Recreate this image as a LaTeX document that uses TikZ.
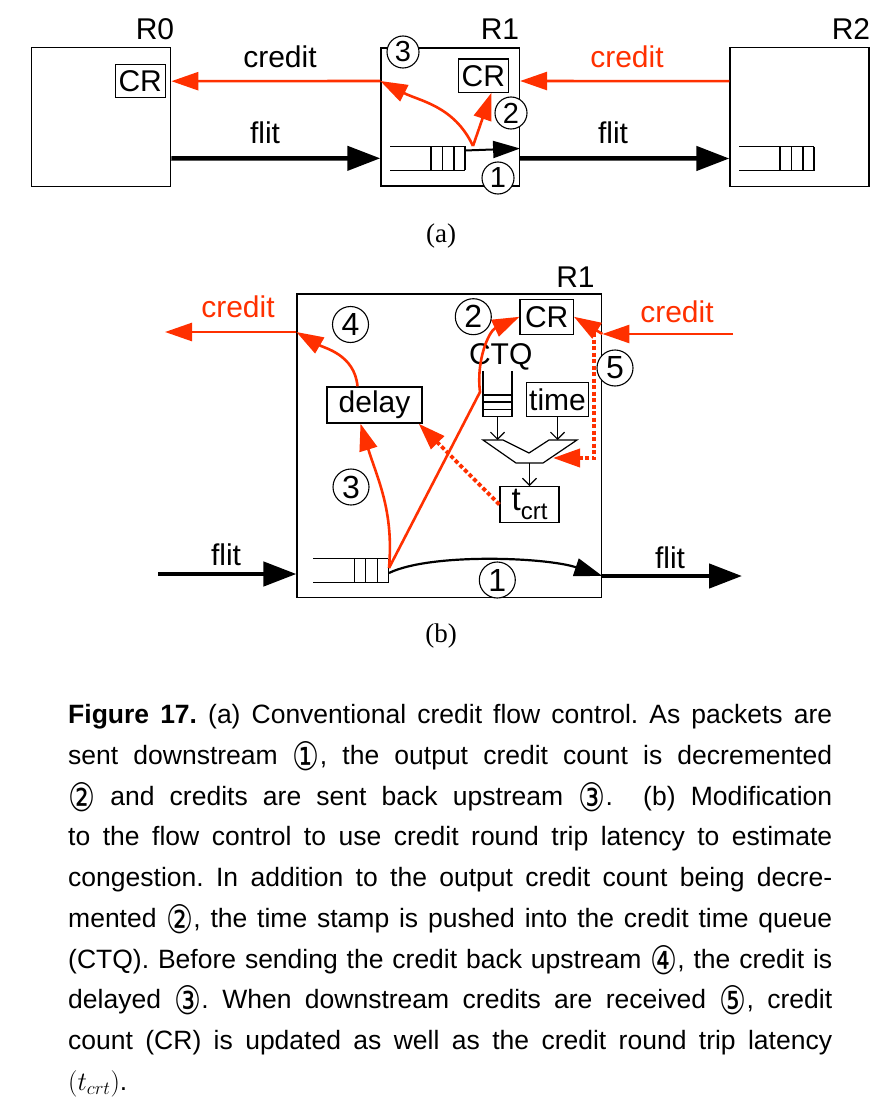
\documentclass[tikz,border=0pt]{standalone}
\usepackage{fix-cm}
\usepackage{graphicx}
\usepackage{fontspec}
\setmainfont{Liberation Sans}
\newfontfamily\serifont{Liberation Serif}
\newfontfamily\symfont{DejaVu Sans}
\usetikzlibrary{arrows.meta}
\definecolor{credred}{RGB}{255,48,0}
\newcommand{\cnum}[1]{\raisebox{-6pt}{\resizebox{27pt}{29pt}{\symfont #1}}}
\frenchspacing

\begin{document}
\begin{tikzpicture}[x=1pt,y=-1pt,
    every node/.style={font=\fontsize{30}{34}\selectfont},
    router/.style={draw,line width=1.3pt,inner sep=0pt},
    regbox/.style={draw,line width=1.3pt,inner sep=0pt},
    num/.style={draw,circle,fill=white,line width=1.1pt,inner sep=0pt,minimum size=36pt,
      font=\fontsize{32}{34}\selectfont},
    numa/.style={num,minimum size=32pt,font=\fontsize{29}{30}\selectfont},
    flitarr/.style={-{Triangle[length=33pt,width=24pt]},line width=4.5pt},
    credarr/.style={-{Triangle[length=27pt,width=18pt]},line width=2.6pt,credred},
    creddot/.style={credarr,dash pattern=on 4pt off 2.5pt,line width=3.8pt},
    thinarr/.style={-{Straight Barb[length=7pt,width=14pt]},line width=1.2pt},
    sublbl/.style={font=\serifont\fontsize{27}{30}\selectfont},
    capline/.style={anchor=base west,inner sep=0pt,font=\fontsize{26.5}{30}\selectfont},
    fifo/.pic={
      \draw[line width=1.2pt] (-75,-12) -- (0,-12) (-75,12) -- (0,12);
      \foreach \b in {-34,-22.5,-11,0} \draw[line width=1.2pt] (\b,-12) -- (\b,12);
    }]
  \useasboundingbox (0,0) rectangle (885,1113);

  % (a) conventional credits
  \node[router,minimum width=139pt,minimum height=139pt] (r0) at (101.2,117.2) {};
  \node[router,minimum width=138.5pt,minimum height=138pt] (r1a) at (450.2,117) {};
  \node[router,minimum width=139pt,minimum height=139pt] (r2) at (799.5,117.2) {};
  \node (r0lbl) at (155,29) {R0};
  \node (r1albl) at (500,29) {R1};
  \node (r2lbl) at (851,29) {R2};
  \node[regbox,minimum width=50pt,minimum height=33.4pt] (cr0) at (140.2,81) {CR};
  \node[regbox,minimum width=50pt,minimum height=33.3pt] (cr1a) at (483.3,75.7) {CR};
  \pic at (465,158.4) {fifo};
  \pic at (814,158.7) {fifo};
  \coordinate (qa) at (473,146);
  \coordinate (qaend) at (465,150.5);

  \draw[credarr] ([yshift=36pt]r2.west) -- ([yshift=36pt]r1a.east);
  \draw[credarr] ([yshift=36pt]r1a.west) -- ([yshift=36pt]r0.east);
  \draw[credarr] (qa) to[out=115,in=-27] ([yshift=36pt]r1a.west);
  \draw[credarr] (qa) -- ([xshift=8pt]cr1a.south);
  \draw[-{Triangle[length=27pt,width=17pt]},line width=2pt] (qaend) -- ([yshift=-31.5pt]r1a.east);
  \draw[flitarr] ([yshift=-41.3pt]r0.east) -- ([yshift=-41.3pt]r1a.west);
  \draw[flitarr] ([yshift=-41.3pt]r1a.east) -- ([yshift=-41.3pt]r2.west);

  \node (credla) at (280,57) {credit};
  \node[text=credred] (credra) at (627,57) {credit};
  \node (flitla) at (265,133) {flit};
  \node (flitra) at (613,133) {flit};
  \node[numa] (n3a) at (403,52) {3};
  \node[numa] (n2a) at (511,113) {2};
  \node[numa] (n1a) at (498,178) {1};
  \node[sublbl] (capa) at (441,236) {(a)};

  % (b) credit round trip
  \node[router,minimum width=304.7pt,minimum height=303.3pt] (r1b) at (449.4,445.7) {};
  \node (r1blbl) at (575.5,277) {R1};
  \node[regbox,minimum width=53.3pt,minimum height=35pt] (crb) at (546.7,316.8) {CR};
  \node[regbox,minimum width=95pt,minimum height=36pt] (delay) at (374.5,405) {delay};
  \node[regbox,minimum width=61.6pt,minimum height=34.4pt] (time) at (557.5,399.5) {time};
  \node[regbox,minimum width=59pt,minimum height=35.6pt] (tcrt) at (529.5,504.5)
    {\fontsize{33}{34}\selectfont t\raisebox{-9pt}{\fontsize{24}{24}\selectfont crt}};
  \node[inner sep=0pt] (ctqlbl) at (500.7,357) {CTQ};
  \draw[line width=1.2pt] (483,371) -- (483,416.7) -- (512,416.7) -- (512,371);
  \foreach \h in {395,402,409.3} \draw[line width=1.2pt] (483,\h) -- (512,\h);
  \draw[line width=1.2pt] (483,440) -- (503,440) -- (529,453) -- (549,440) -- (577,440)
    -- (543,463) -- (516,463) -- cycle;
  \coordinate (ctqbot) at (497.5,416.7);
  \coordinate (muxl) at (497.5,440);
  \coordinate (muxo) at (529.5,463);
  \coordinate (muxtip) at (553,458);
  \draw[thinarr] (ctqbot) -- (muxl);
  \draw[thinarr] (time.south) -- (time.south |- muxl);
  \draw[thinarr] (muxo) -- (tcrt.north);

  \pic at (388.3,570.7) {fifo};
  \coordinate (qb) at (389,568);
  \coordinate (bend) at (480,392);
  \coordinate (cin) at (733,334);
  \coordinate (cout) at (165,332);
  \coordinate (dtop) at (594,333);
  \coordinate (fin) at (158,574);
  \coordinate (fout) at (742,576);

  \draw[credarr] (cin) -- (cin -| r1b.east);
  \draw[credarr] (cin -| r1b.east) -- (crb.east);
  \draw[creddot] (dtop) |- (muxtip);
  \draw[creddot] (tcrt.west) -- ([xshift=-4pt]delay.south east);
  \draw[credarr] (qb) -- (bend) to[out=97,in=-155] (crb.west);
  \draw[credarr] (qb) to[out=85,in=-73] ([xshift=-14pt]delay.south);
  \draw[credarr] ([xshift=-17pt]delay.north) to[out=95,in=-30] (cout -| r1b.west);
  \draw[credarr] (cout -| r1b.west) -- (cout);
  \draw[flitarr] (fin) -- (fin -| r1b.west);
  \draw[flitarr] (fout -| r1b.east) -- (fout);
  \draw[-{Triangle[length=28pt,width=18pt]},line width=2.2pt]
    ([yshift=-5pt]qb) .. controls (430,553) and (545,557) .. (fout -| r1b.east);

  \node[text=credred] (credlb) at (238,307) {credit};
  \node[text=credred] (credrb) at (677,312) {credit};
  \node (flitlb) at (226,555) {flit};
  \node (flitrb) at (670,558) {flit};
  \node[num] (n4) at (350.5,324.5) {4};
  \node[num] (n2b) at (473.3,316.7) {2};
  \node[num] (n3b) at (351,487) {3};
  \node[num] (n1b) at (497.3,580) {1};
  \node[num] (n5) at (615,368) {5};
  \node[sublbl] (capb) at (441,636) {(b)};

  % caption
  \foreach \t [count=\i from 0] in {
      {\textbf{Figure 17.} (a) Conventional credit flow control. As packets are},
      {sent downstream \cnum{①}, the output credit count is decremented},
      {\cnum{②} and credits are sent back upstream \cnum{③}.\ \ (b) Modification},
      {to the flow control to use credit round trip latency to estimate},
      {congestion. In addition to the output credit count being decre-},
      {mented \cnum{②}, the time stamp is pushed into the credit time queue},
      {(CTQ). Before sending the credit back upstream \cnum{④}, the credit is},
      {delayed \cnum{③}. When downstream credits are received \cnum{⑤}, credit},
      {count (CR) is updated as well as the credit round trip latency}}
    \node[capline] (cap\i) at (68,{723.5+40.78*\i}) {\makebox[764pt][s]{\t}};
  \node[capline] (cap9) at (68,{723.5+40.78*9}) {$(t_{crt})$.};
\end{tikzpicture}
\end{document}
